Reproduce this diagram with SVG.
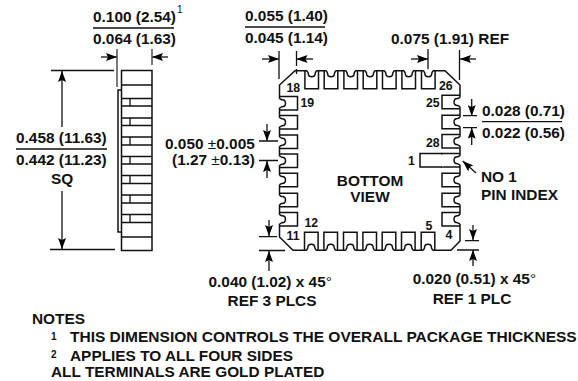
<svg xmlns="http://www.w3.org/2000/svg" width="578" height="381" viewBox="0 0 578 381">
<style>
text{font-family:"Liberation Sans",Arial,sans-serif;font-weight:700;font-size:15.4px;fill:#111}
.n{font-size:12.3px}
.m{text-anchor:middle}
.s{font-size:10px}
.r{font-weight:400}
.l{fill:none;stroke:#111;stroke-width:1.3}
.t{fill:none;stroke:#111;stroke-width:1.5}
.g{fill:none;stroke:#444;stroke-width:1.4}
.ah{fill:#000}
.pf{fill:#fff;stroke:none}
</style>
<defs>
<marker id="a" viewBox="0 0 11 8" refX="11" refY="4" markerWidth="11" markerHeight="8" markerUnits="userSpaceOnUse" orient="auto" preserveAspectRatio="none"><path class="ah" d="M0,0L11,4L0,8L2,4z"/></marker>
<g id="pad">
<path d="M-1.500,-4.500H1.500V4.500H-1.500z" class="pf"/>
<path class="t" d="M0,-6.800H18V6.800H0"/>
<path class="t" d="M0,-4.500C1.500,-4.500 1.500,-3.500 2.500,-3.500C5,-3.500 6,-2 6,0C6,2 5,3.500 2.500,3.500C1.500,3.500 1.500,4.500 0,4.500"/>
</g>
</defs>
<g id="connectors">
<path class="l" d="M93,28H174M16,149H107M245,27H325M482,121.700H562"/>
<path class="l" marker-end="url(#a)" d="M101,57H117"/>
<path class="l" marker-end="url(#a)" d="M168,57H152"/>
<path class="g" d="M117,49V87M152,49V65"/>
<path class="l" d="M51,70.500H114M50,249.500H115"/>
<path class="l" marker-end="url(#a)" d="M62,127V71"/>
<path class="l" marker-end="url(#a)" d="M62,191V249"/>
<path class="l" marker-end="url(#a)" d="M262,59H279"/>
<path class="l" marker-end="url(#a)" d="M313,59H296.500"/>
<path class="l" d="M279,51V79M296.500,51V66M296.500,69V74"/>
<path class="l" marker-end="url(#a)" d="M411,59H428"/>
<path class="l" marker-end="url(#a)" d="M476,59H460"/>
<path class="l" d="M428,49V71M459.500,50V80"/>
<path class="l" d="M259,141H279M259,160.500H279M259,236.700H277M259,250.500H285M465,240.700H479M457,250H479M463,115.700H477M463,127.700H477"/>
<path class="l" marker-end="url(#a)" d="M267,124V141"/>
<path class="l" marker-end="url(#a)" d="M267,178V161"/>
<path class="l" marker-end="url(#a)" d="M269,220V236"/>
<path class="l" marker-end="url(#a)" d="M269,271V251"/>
<path class="l" marker-end="url(#a)" d="M473,225V240"/>
<path class="l" marker-end="url(#a)" d="M473,266V250"/>
<path class="l" marker-end="url(#a)" d="M471.700,99V116"/>
<path class="l" marker-end="url(#a)" d="M471.700,145V127.700"/>
<path class="l" marker-end="url(#a)" d="M476,173L462.700,161"/>
</g>
<g id="side-view">
<rect class="t" x="121.500" y="70.500" width="30.500" height="180"/>
<path class="t" d="M121.500,90H118V232H121.500"/>
<path class="l" d="M121,85H152M121,98.500H152M121,106H152M121,118H152M121,125.500H152M121,137H152M121,145H152M121,156.500H152M121,164H152M121,175.500H152M121,183.500H152M121,195H152M121,203H152M121,214.500H152M121,222.500H152M121,237H152"/>
<path class="l" d="M130,98.500V106M130,118V125.500M130,137V145M130,156.500V164M130,175.500V183.500M130,195V203M130,214.500V222.500"/>
</g>
<g id="bottom-view">
<path class="t" d="M295,70.700H445L460,85V241L451,250.300H293L279.500,237V85z"/>
<use href="#pad" transform="translate(311.700,70.700) rotate(90) scale(1,-1)"/>
<use href="#pad" transform="translate(331,70.700) rotate(90) scale(1,-1)"/>
<use href="#pad" transform="translate(350.700,70.700) rotate(90) scale(1,-1)"/>
<use href="#pad" transform="translate(370,70.700) rotate(90) scale(1,-1)"/>
<use href="#pad" transform="translate(389.300,70.700) rotate(90) scale(1,-1)"/>
<use href="#pad" transform="translate(408.700,70.700) rotate(90) scale(1,-1)"/>
<use href="#pad" transform="translate(428.300,70.700) rotate(90) scale(1,-1)"/>
<use href="#pad" transform="translate(311.300,250.300) rotate(-90)"/>
<use href="#pad" transform="translate(330.700,250.300) rotate(-90)"/>
<use href="#pad" transform="translate(350.300,250.300) rotate(-90)"/>
<use href="#pad" transform="translate(369.700,250.300) rotate(-90)"/>
<use href="#pad" transform="translate(389,250.300) rotate(-90)"/>
<use href="#pad" transform="translate(408.300,250.300) rotate(-90)"/>
<use href="#pad" transform="translate(428,250.300) rotate(-90)"/>
<use href="#pad" transform="translate(279.500,103.300)"/>
<use href="#pad" transform="translate(279.500,122.300)"/>
<use href="#pad" transform="translate(279.500,141.700)"/>
<use href="#pad" transform="translate(279.500,160.700)"/>
<use href="#pad" transform="translate(279.500,180)"/>
<use href="#pad" transform="translate(279.500,200)"/>
<use href="#pad" transform="translate(279.500,219.300)"/>
<use href="#pad" transform="translate(460,102) scale(-1,1)"/>
<use href="#pad" transform="translate(460,122) scale(-1,1)"/>
<use href="#pad" transform="translate(460,141.300) scale(-1,1)"/>
<use href="#pad" transform="translate(460,180) scale(-1,1)"/>
<use href="#pad" transform="translate(460,200) scale(-1,1)"/>
<use href="#pad" transform="translate(460,219.300) scale(-1,1)"/>
<use href="#pad" transform="translate(460,160.300) scale(-1,1)"/>
<path class="pf" d="M441,154.500H443.500V166.500H441z"/>
<path class="t" d="M442,153.500H420V167.100H442"/>
<text class="n" x="286.500" y="92">18</text><text class="n" x="300.500" y="107">19</text>
<text class="n" x="439" y="90">26</text><text class="n" x="426" y="107">25</text>
<text class="n" x="426" y="147">28</text><text class="n" x="408" y="165">1</text>
<text class="n" x="304.500" y="227">12</text><text class="n" x="286.500" y="240">11</text>
<text class="n" x="425.500" y="230">5</text><text class="n" x="445.500" y="239">4</text>
<text class="m" x="370" y="186">BOTTOM</text><text class="m" x="370" y="202">VIEW</text>
</g>
<g id="labels">
<text x="93" y="22">0.100 (2.54)</text><text class="s r" x="177" y="13">1</text>
<text x="93" y="44">0.064 (1.63)</text>
<text x="16" y="143">0.458 (11.63)</text><text x="16" y="165">0.442 (11.23)</text><text class="m" x="62" y="184">SQ</text>
<text x="245" y="21">0.055 (1.40)</text><text x="245" y="43">0.045 (1.14)</text>
<text x="391" y="44">0.075 (1.91) REF</text>
<text x="165" y="149">0.050 <tspan class="r">±</tspan>0.005</text>
<text x="172" y="165">(1.27 <tspan class="r">±</tspan>0.13)</text>
<text x="208.500" y="287">0.040 (1.02) x 45<tspan class="r">°</tspan></text><text class="m" x="272" y="306">REF 3 PLCS</text>
<text x="412.700" y="284">0.020 (0.51) x 45<tspan class="r">°</tspan></text><text class="m" x="472" y="304">REF 1 PLC</text>
<text x="482" y="116">0.028 (0.71)</text><text x="482" y="137.700">0.022 (0.56)</text>
<text x="481" y="182">NO 1</text><text x="481" y="200">PIN INDEX</text>
</g>
<g id="notes">
<text x="32" y="324">NOTES</text>
<text class="s" x="51" y="340">1</text><text x="70" y="342" style="font-size:15.5px">THIS DIMENSION CONTROLS THE OVERALL PACKAGE THICKNESS</text>
<text class="s" x="51" y="358">2</text><text x="70" y="361">APPLIES TO ALL FOUR SIDES</text>
<text x="51" y="377">ALL TERMINALS ARE GOLD PLATED</text>
</g>
</svg>
